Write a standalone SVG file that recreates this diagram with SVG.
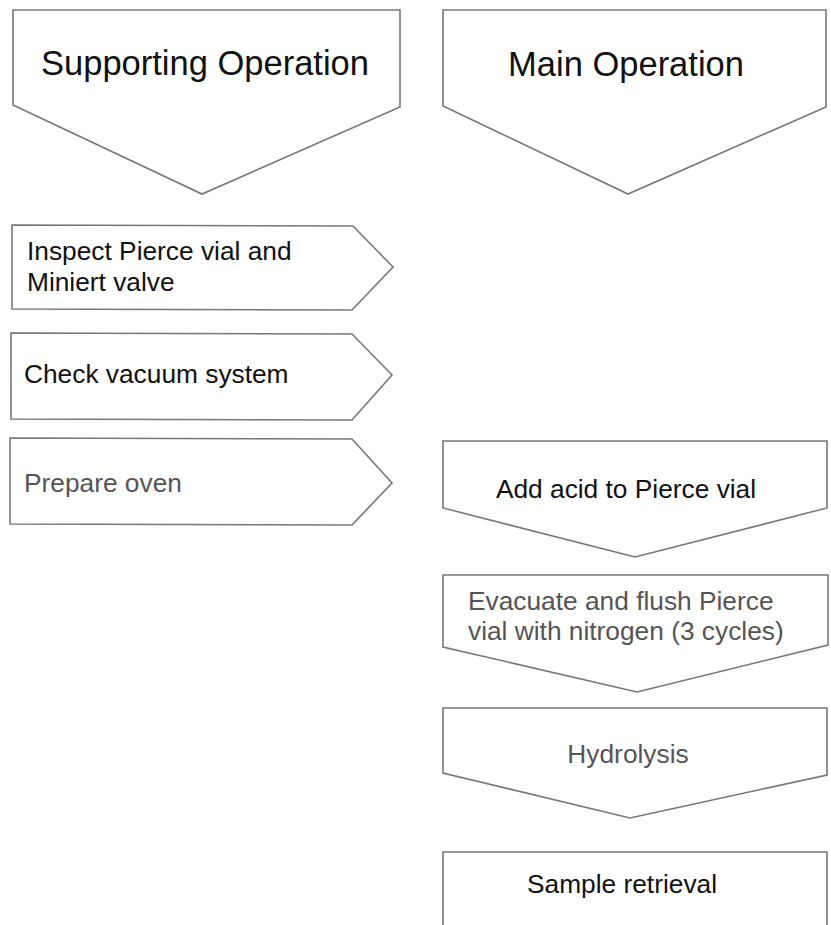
<svg xmlns="http://www.w3.org/2000/svg" width="831" height="925" viewBox="0 0 831 925">
<style>
.shape{fill:#ffffff;stroke:#777777;stroke-width:1.6;stroke-linejoin:miter}
.hdr{font-family:"Liberation Sans",Arial,sans-serif;font-size:34.5px;fill:#111111}
.lbl{font-family:"Liberation Sans",Arial,sans-serif;font-size:26.3px;fill:#111111}
.dim{fill:#555555}
</style>
<rect x="0" y="0" width="831" height="925" fill="#ffffff"/>
<g id="connectors"></g>
<g id="supporting-operation">
<polygon class="shape" points="13,10 400,10 400,107 202,194 13,105"/>
<text class="hdr" x="205" y="75" text-anchor="middle">Supporting Operation</text>
</g>
<g id="main-operation">
<polygon class="shape" points="443,10 826,10 826,107 628,194 443,106"/>
<text class="hdr" x="626" y="76" text-anchor="middle">Main Operation</text>
</g>
<g id="inspect">
<polygon class="shape" points="12,225 353,226 393,267 352,310 12,309"/>
<text class="lbl" x="27" y="260">Inspect Pierce vial and</text>
<text class="lbl" x="27" y="291">Miniert valve</text>
</g>
<g id="check-vacuum">
<polygon class="shape" points="11,333 352,334 392,375 352,420 11,419"/>
<text class="lbl" x="24" y="383">Check vacuum system</text>
</g>
<g id="prepare-oven">
<polygon class="shape" points="10,438 352,439 392,483 352,525 10,524"/>
<text class="lbl dim" x="24" y="492">Prepare oven</text>
</g>
<g id="add-acid">
<polygon class="shape" points="443,441 827,441 827,508 635,557 443,508"/>
<text class="lbl" x="626" y="498" text-anchor="middle">Add acid to Pierce vial</text>
</g>
<g id="evacuate">
<polygon class="shape" points="443,575 828,575 828,645 637,692 443,647"/>
<text class="lbl dim" x="468" y="610">Evacuate and flush Pierce</text>
<text class="lbl dim" x="468" y="640">vial with nitrogen (3 cycles)</text>
</g>
<g id="hydrolysis">
<polygon class="shape" points="443,708 827,708 827,775 630,818 443,773"/>
<text class="lbl dim" x="628" y="763" text-anchor="middle">Hydrolysis</text>
</g>
<g id="sample-retrieval">
<polyline class="shape" points="443,930 443,852 827,852 827,930"/>
<text class="lbl" x="622" y="893" text-anchor="middle">Sample retrieval</text>
</g>
</svg>
